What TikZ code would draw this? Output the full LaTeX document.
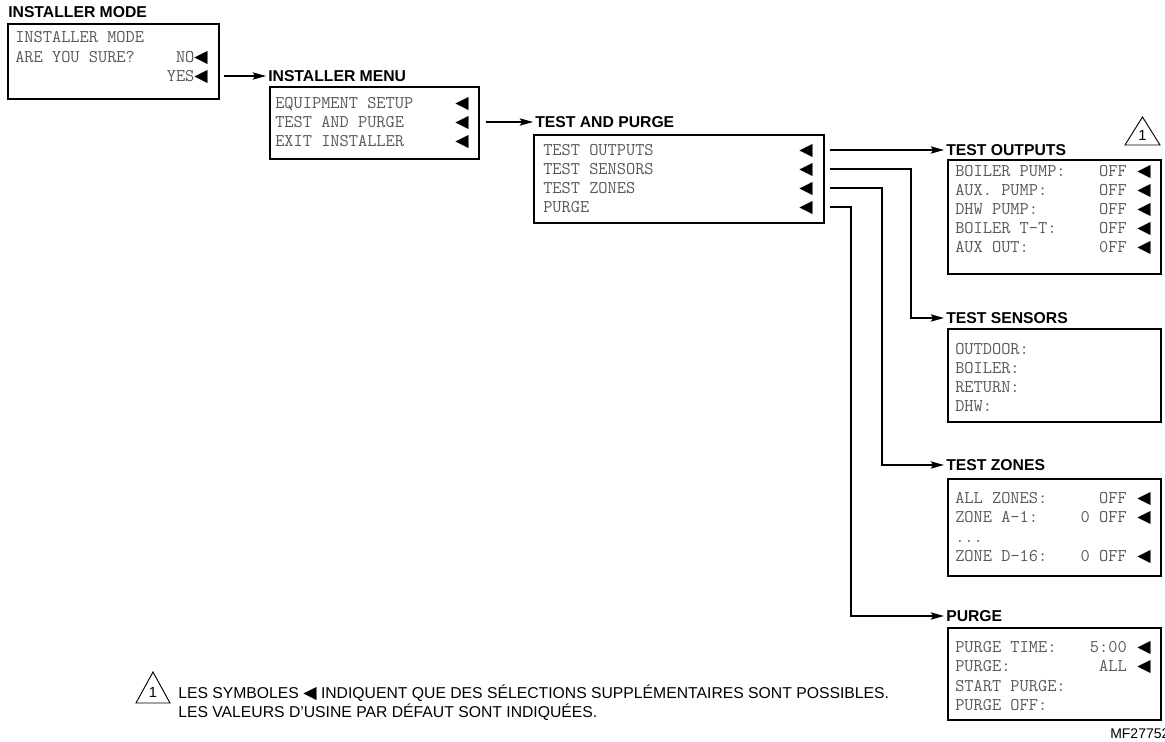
\documentclass[tikz,border=0pt]{standalone}
\usepackage{fontspec}
\setmainfont{Liberation Sans}
\newfontfamily\symfont{DejaVu Sans}
\usetikzlibrary{calc,arrows.meta}
\newcommand{\sel}{{\color{black}\symfont\fontsize{13}{14}\selectfont ◀}}

\begin{document}
\begin{tikzpicture}[x=0.75pt,y=-0.75pt,>={Stealth[length=10pt,width=5.5pt,inset=2pt]},
  panel/.style n args={2}{draw,line width=1.4pt,anchor=north west,inner sep=0,minimum width=#1*0.75pt,minimum height=#2*0.75pt},
  screentitle/.style={anchor=west,inner xsep=1.5pt,inner ysep=0,font=\bfseries\fontsize{11.8}{14}\selectfont,text height=8.45pt,text depth=0pt},
  lcd/.style={anchor=west,inner sep=0,font=\ttfamily\fontsize{13.4}{16}\selectfont,text=black!65,text height=8.2pt,text depth=0pt},
  lcdr/.style={lcd,anchor=east},
  link/.style={->,line width=1.1pt},
  badge/.style={line width=0.7pt},
  note/.style={anchor=west,inner sep=0,font=\fontsize{11.8}{14}\selectfont,text height=8.45pt,text depth=0pt}]
  \useasboundingbox (0,0) rectangle (1165,742);

  % Installer mode
  \node[screentitle] (modehead) at (6,12) {INSTALLER MODE};
  \node[panel={211}{75}] (modebox) at (7,23) {};
  \node[lcd] at (15,37) {INSTALLER MODE};
  \node[lcd] at (15,57) {ARE YOU SURE?};
  \node[lcdr] (no) at (208,57) {NO\sel};
  \node[lcdr] (yes) at (208,76) {YES\sel};

  % Installer menu
  \node[screentitle] (menuhead) at (266,76) {INSTALLER MENU};
  \draw[link] ($(modebox.east |- yes)+(4,0)$) -- (yes -| menuhead.west);
  \node[panel={209}{72}] (menubox) at (269,86) {};
  \node[lcd] at (275,103) {EQUIPMENT SETUP}; \node[lcdr] (m1) at (469,103) {\sel};
  \node[lcd] at (275,122) {TEST AND PURGE};  \node[lcdr] (m2) at (469,122) {\sel};
  \node[lcd] at (275,141) {EXIT INSTALLER};  \node[lcdr] (m3) at (469,141) {\sel};

  % Test and purge
  \node[screentitle] (tphead) at (533,122) {TEST AND PURGE};
  \draw[link] ($(menubox.east |- m2)+(6,0)$) -- (m2 -| tphead.west);
  \node[panel={290}{88}] (tpbox) at (533,134) {};
  \node[lcd] at (543,150) {TEST OUTPUTS}; \node[lcdr] (t1) at (813,150) {\sel};
  \node[lcd] at (543,169) {TEST SENSORS}; \node[lcdr] (t2) at (813,169) {\sel};
  \node[lcd] at (543,188) {TEST ZONES};   \node[lcdr] (t3) at (813,188) {\sel};
  \node[lcd] at (543,207) {PURGE};        \node[lcdr] (t4) at (813,207) {\sel};

  % Sub-menu headings and links
  \node[screentitle] (outhead) at (944,150) {TEST OUTPUTS};
  \node[screentitle] (senshead) at (944,318) {TEST SENSORS};
  \node[screentitle] (zonehead) at (944,465) {TEST ZONES};
  \node[screentitle] (purgehead) at (944,616) {PURGE};
  \draw[link] ($(tpbox.east |- t1)+(5,0)$) -- (t1 -| outhead.west);
  \draw[link] ($(tpbox.east |- t2)+(5,0)$) -- ++(81,0) |- (senshead.west);
  \draw[link] ($(tpbox.east |- t3)+(5,0)$) -- ++(52,0) |- (zonehead.west);
  \draw[link] ($(tpbox.east |- t4)+(5,0)$) -- ++(21,0) |- (purgehead.west);

  % Test outputs
  \draw[badge] (1125,145) -- (1142.5,117) -- (1160,145) -- cycle;
  \node[font=\fontsize{11}{12}\selectfont,inner sep=0] (warn) at (1142.5,135) {1};
  \node[panel={213}{114}] (outbox) at (947,159) {};
  \node[lcd] at (955,171) {BOILER PUMP:}; \node[lcdr] at (1127,171) {OFF}; \node[lcdr] at (1151,171) {\sel};
  \node[lcd] at (955,190) {AUX. PUMP:};   \node[lcdr] at (1127,190) {OFF}; \node[lcdr] at (1151,190) {\sel};
  \node[lcd] at (955,209) {DHW PUMP:};    \node[lcdr] at (1127,209) {OFF}; \node[lcdr] at (1151,209) {\sel};
  \node[lcd] at (955,228) {BOILER T-T:};  \node[lcdr] at (1127,228) {OFF}; \node[lcdr] at (1151,228) {\sel};
  \node[lcd] at (955,247) {AUX OUT:};     \node[lcdr] at (1127,247) {0FF}; \node[lcdr] at (1151,247) {\sel};

  % Test sensors
  \node[panel={213}{93}] (sensbox) at (947,328) {};
  \node[lcd] at (955,349) {OUTDOOR:};
  \node[lcd] at (955,368) {BOILER:};
  \node[lcd] at (955,387) {RETURN:};
  \node[lcd] at (955,406) {DHW:};

  % Test zones
  \node[panel={213}{97}] (zonebox) at (947,478) {};
  \node[lcd] at (955,498) {ALL ZONES:};  \node[lcdr] at (1127,498) {OFF};   \node[lcdr] at (1151,498) {\sel};
  \node[lcd] at (955,517) {ZONE A-1:};   \node[lcdr] at (1127,517) {0 OFF}; \node[lcdr] at (1151,517) {\sel};
  \node[lcd] at (955,537) {...};
  \node[lcd] at (955,556) {ZONE D-16:};  \node[lcdr] at (1127,556) {0 OFF}; \node[lcdr] at (1151,556) {\sel};

  % Purge
  \node[panel={213}{92}] (purgebox) at (947,627) {};
  \node[lcd] at (955,647) {PURGE TIME:}; \node[lcdr] at (1127,647) {5:00}; \node[lcdr] at (1151,647) {\sel};
  \node[lcd] at (955,666) {PURGE:};      \node[lcdr] at (1127,666) {ALL};  \node[lcdr] at (1151,666) {\sel};
  \node[lcd] at (955,686) {START PURGE:};
  \node[lcd] at (955,705) {PURGE OFF:};

  % Footnote
  \draw[badge] (136,703) -- (153,672) -- (170,703) -- cycle;
  \node[font=\fontsize{11}{12}\selectfont,inner sep=0] (notemark) at (153,692) {1};
  \node[note] (note1) at (178,693) {LES SYMBOLES \sel{} INDIQUENT QUE DES SÉLECTIONS SUPPLÉMENTAIRES SONT POSSIBLES.};
  \node[note] (note2) at (178,712) {LES VALEURS D’USINE PAR DÉFAUT SONT INDIQUÉES.};
  \node[anchor=base west,inner sep=0,font=\fontsize{10.5}{12}\selectfont] (figno) at (1110,738) {MF27752};
\end{tikzpicture}
\end{document}
